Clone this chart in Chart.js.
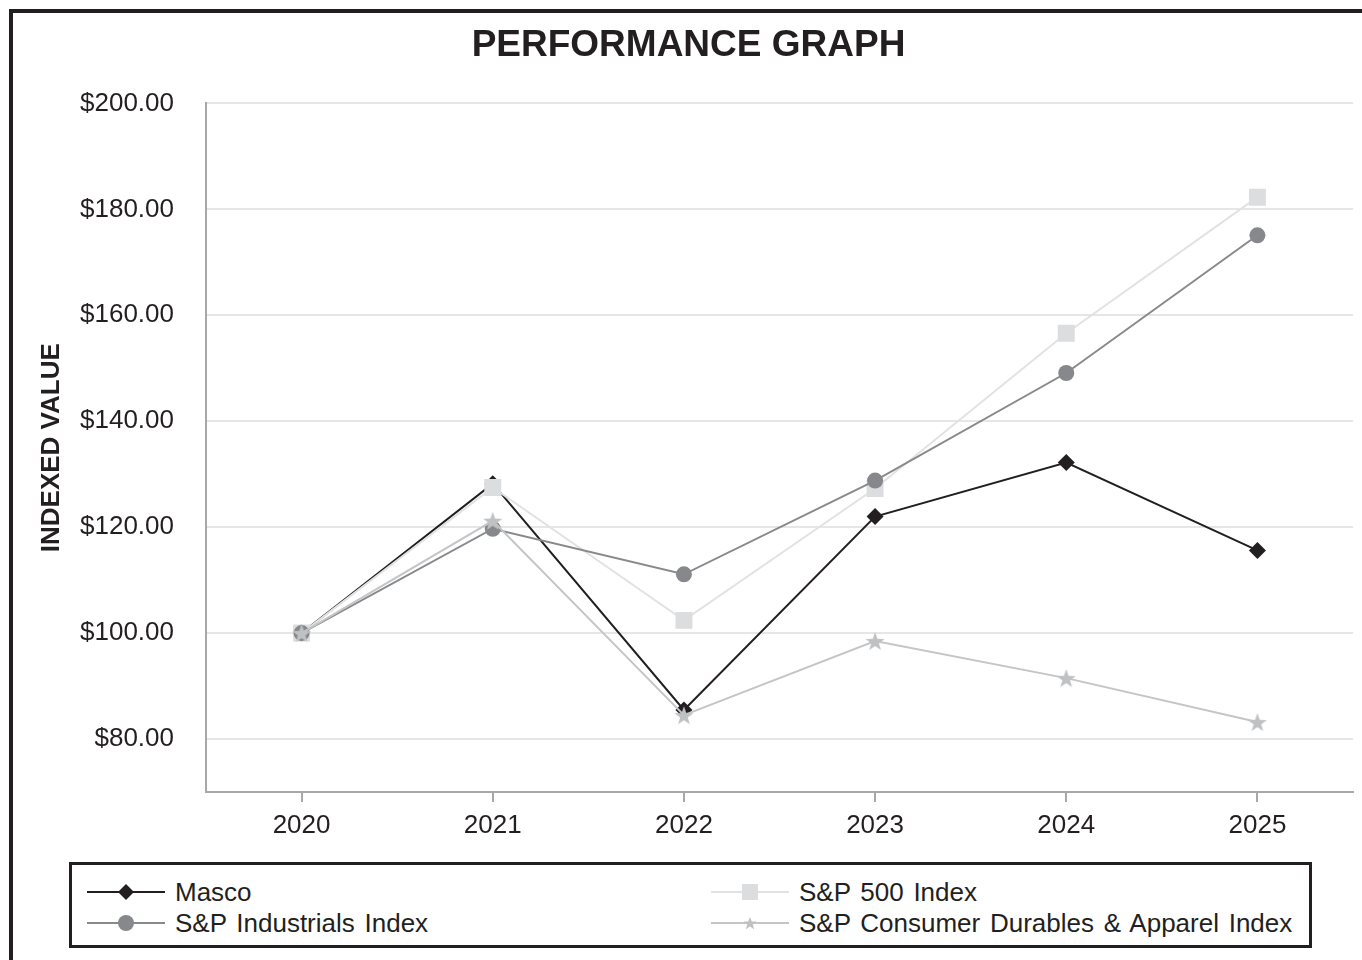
<!DOCTYPE html>
<html lang="en">
<head>
  <meta charset="UTF-8" />
  <title>Performance Graph</title>
  <script src="https://cdn.jsdelivr.net/npm/chart.js"></script>
  <style>
    body {
      margin: 0;
      background: #fff;
      font-family: 'Liberation Sans', Arial, sans-serif;
      width: 1362px;
      height: 960px;
      overflow: hidden;
      position: relative;
    }
    .frame {
      position: absolute;
      left: 9px;
      top: 9px;
      width: 2000px;
      height: 2000px;
      border-left: 4px solid #231f20;
      border-top: 4px solid #231f20;
    }
    .chart-box {
      position: absolute;
      left: 0;
      top: 0;
      width: 1362px;
      height: 850px;
    }
    .legend {
      position: absolute;
      left: 69px;
      top: 862px;
      width: 1237px;
      height: 80px;
      border: 3px solid #231f20;
    }
    .legend .item {
      position: absolute;
      height: 30px;
      display: flex;
      align-items: center;
      font-size: 26px;
      word-spacing: 2.5px;
      color: #231f20;
      white-space: nowrap;
    }
    .legend svg { margin-right: 10px; }
  </style>
</head>
<body>
  <div class="frame"></div>
  <div class="chart-box"><canvas id="perfChart"></canvas></div>
  <div class="legend" id="legend"></div>

  <script>
    const years = ['2020', '2021', '2022', '2023', '2024', '2025'];
    const masco = [100, 128.2, 85.5, 122.0, 132.2, 115.6];
    const sp500 = [100, 127.5, 102.4, 127.3, 156.6, 182.3];
    const industrials = [100, 119.7, 111.1, 128.8, 149.1, 175.1];
    const consumerDurables = [100, 121.2, 84.5, 98.5, 91.5, 83.2];
    const yTicks = [80, 100, 120, 140, 160, 180, 200];

    const seriesNames = ['Masco', 'S&P 500 Index', 'S&P Industrials Index', 'S&P Consumer Durables & Apparel Index'];

    // 5 point star used for the consumer durables series
    function starImage(size, color) {
      const c = document.createElement('canvas');
      c.width = c.height = size;
      const g = c.getContext('2d');
      g.beginPath();
      for (let i = 0; i < 10; i++) {
        const r = i % 2 ? size * 0.2 : size * 0.5;
        const a = -Math.PI / 2 + i * Math.PI / 5;
        const px = size / 2 + r * Math.cos(a);
        const py = size / 2 + 1 + r * Math.sin(a);
        if (i === 0) g.moveTo(px, py); else g.lineTo(px, py);
      }
      g.closePath();
      g.fillStyle = color;
      g.fill();
      return c;
    }

    const ctx = document.getElementById('perfChart').getContext('2d');
    new Chart(ctx, {
      type: 'line',
      data: {
        labels: years,
        datasets: [
          {
            label: seriesNames[0], data: masco, order: 4,
            borderColor: '#231f20', backgroundColor: '#231f20', borderWidth: 2,
            pointStyle: 'rectRot', pointRadius: 8.5, pointBorderWidth: 0
          },
          {
            label: seriesNames[1], data: sp500, order: 3,
            borderColor: '#e2e2e3', backgroundColor: '#dcdddf', borderWidth: 2,
            pointStyle: 'rect', pointRadius: 12, pointBorderWidth: 0
          },
          {
            label: seriesNames[2], data: industrials, order: 2,
            borderColor: '#88898c', backgroundColor: '#87888b', borderWidth: 2,
            pointStyle: 'circle', pointRadius: 8, pointBorderWidth: 0
          },
          {
            label: seriesNames[3], data: consumerDurables, order: 1,
            borderColor: '#c4c5c7', backgroundColor: '#c0c1c3', borderWidth: 2,
            pointStyle: starImage(20, '#c0c1c3'), pointRadius: 10, pointBorderWidth: 0
          }
        ]
      },
      options: {
        responsive: true,
        maintainAspectRatio: false,
        animation: false,
        layout: { autoPadding: false, padding: { left: 24, right: 9, top: 8, bottom: 0 } },
        plugins: {
          legend: { display: false },
          tooltip: { enabled: false },
          title: {
            display: true,
            text: 'PERFORMANCE GRAPH',
            color: '#231f20',
            font: { family: "'Liberation Sans', Arial, sans-serif", size: 37, weight: 'bold' },
            padding: { top: 16, bottom: 35 }
          }
        },
        scales: {
          x: {
            offset: true,
            grid: { display: true, drawOnChartArea: false, drawTicks: true, tickLength: 10, color: '#a7a8aa', lineWidth: 2 },
            border: { display: true, color: '#a7a8aa', width: 2 },
            ticks: {
              color: '#231f20', padding: 8,
              font: { family: "'Liberation Sans', Arial, sans-serif", size: 26 }
            },
            afterFit: s => { s.height = 58; }
          },
          y: {
            min: 70,
            max: 200,
            afterBuildTicks: s => { s.ticks = yTicks.map(v => ({ value: v })); },
            grid: { color: '#e6e6e7', lineWidth: 2, drawTicks: false },
            border: { display: true, color: '#a7a8aa', width: 2 },
            ticks: {
              color: '#231f20', padding: 32,
              font: { family: "'Liberation Sans', Arial, sans-serif", size: 26 },
              callback: v => '$' + Number(v).toFixed(2)
            },
            title: {
              display: true,
              text: 'INDEXED VALUE',
              color: '#231f20',
              font: { family: "'Liberation Sans', Arial, sans-serif", size: 26, weight: 'bold' },
              padding: { top: 12, bottom: 0 }
            },
            afterFit: s => { s.width = 182; }
          }
        }
      }
    });

    // legend: two columns, names come from seriesNames
    const legendItems = [
      { name: seriesNames[0], line: '#231f20', marker: '<path d="M39 1 L47 9 L39 17 L31 9 Z" fill="#231f20"/>', left: 15, top: 12 },
      { name: seriesNames[2], line: '#88898c', marker: '<circle cx="39" cy="9" r="8" fill="#87888b"/>', left: 15, top: 43 },
      { name: seriesNames[1], line: '#e2e2e3', marker: '<rect x="31" y="1" width="16" height="16" fill="#dcdddf"/>', left: 639, top: 12 },
      { name: seriesNames[3], line: '#c4c5c7', marker: '<path d="M39 3 L40.8 7.6 L45.6 7.6 L41.8 10.5 L43.1 15.2 L39 12.4 L34.9 15.2 L36.2 10.5 L32.4 7.6 L37.2 7.6 Z" fill="#c0c1c3"/>', left: 639, top: 43 }
    ];
    const legend = document.getElementById('legend');
    legendItems.forEach(it => {
      const div = document.createElement('div');
      div.className = 'item';
      div.style.left = it.left + 'px';
      div.style.top = it.top + 'px';
      div.innerHTML = '<svg width="78" height="18"><line x1="0" y1="9" x2="78" y2="9" stroke="' + it.line + '" stroke-width="2"/>' + it.marker + '</svg>';
      const span = document.createElement('span');
      span.textContent = it.name;
      div.appendChild(span);
      legend.appendChild(div);
    });
  </script>
</body>
</html>
